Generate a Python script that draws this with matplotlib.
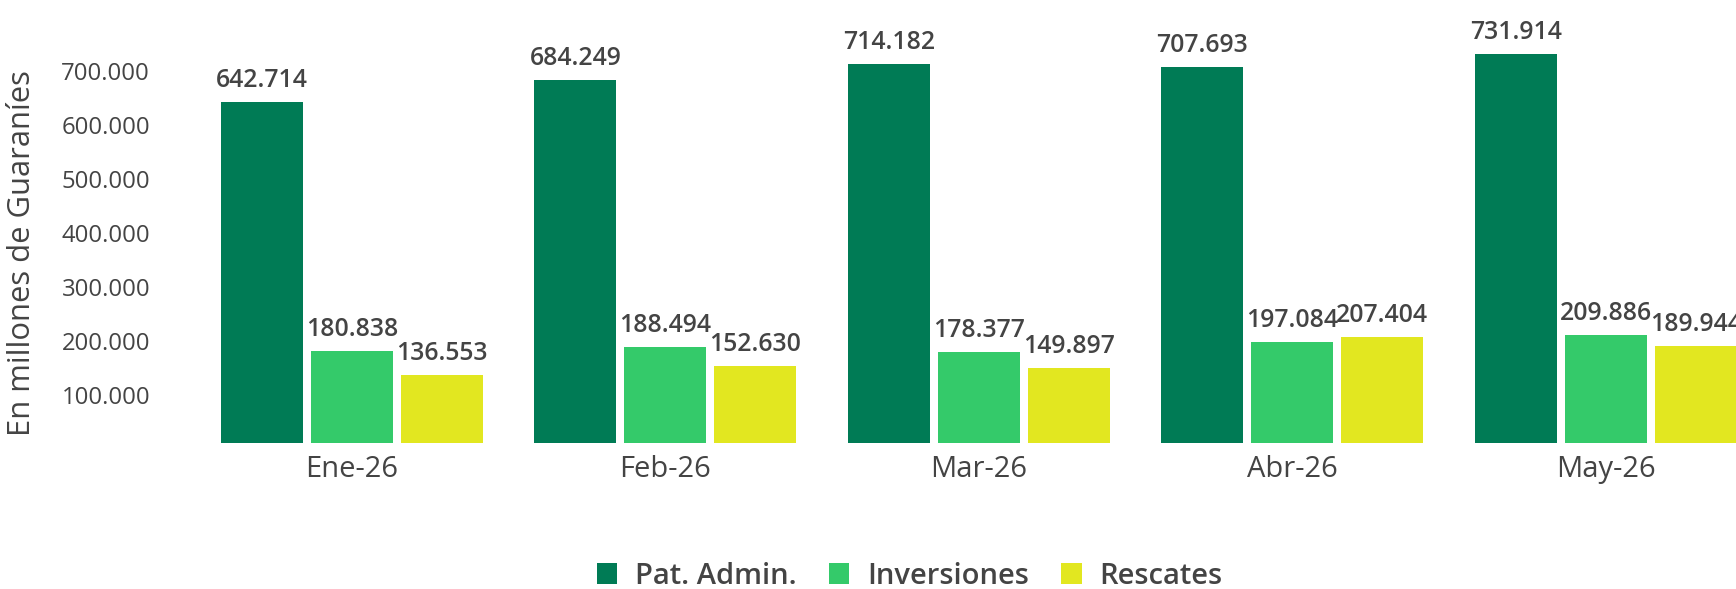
# Importing the libraries
import numpy as np
import matplotlib.pyplot as plt
from matplotlib.patches import Patch

# Data
meses = ['Ene-26', 'Feb-26', 'Mar-26', 'Abr-26', 'May-26']
pat_admin = [642714, 684249, 714182, 707693, 731914]
inversiones = [180838, 188494, 178377, 197084, 209886]
rescates = [136553, 152630, 149897, 207404, 189944]
series_names = ['Pat. Admin.', 'Inversiones', 'Rescates']
y_ticks = [100000, 200000, 300000, 400000, 500000, 600000, 700000]

colors = ['#007B55', '#34CA6A', '#E2E720']
text_color = '#444444'

plt.rcParams['font.family'] = ['Open Sans', 'DejaVu Sans']


def fmt(v):
    # thousands separator with a dot
    return f'{v:,.0f}'.replace(',', '.')


fig = plt.figure(figsize=(17.36, 5.89), dpi=100)
ax = fig.add_axes([0.1125, 0.2477, 0.9027, 0.7229])

x = np.arange(len(meses))
width = 0.2616
step = 0.2872

for k, (vals, col) in enumerate(zip([pat_admin, inversiones, rescates], colors)):
    pos = x + (k - 1) * step
    bars = ax.bar(pos, vals, width, color=col, label=series_names[k])
    for b, v in zip(bars, vals):
        ax.annotate(fmt(v), (b.get_x() + b.get_width() / 2, v),
                    xytext=(0, 10.8), textcoords='offset points',
                    ha='center', va='baseline', fontsize=17.8,
                    fontweight='semibold', color=text_color)

ax.set_xlim(-0.5, 4.5)
ax.set_ylim(10000, 800000)
ax.set_xticks(x)
ax.set_xticklabels(meses)
ax.set_yticks(y_ticks)
ax.set_yticklabels([fmt(v) for v in y_ticks])
ax.tick_params(axis='x', length=0, pad=8.5, labelsize=21, colors=text_color)
ax.tick_params(axis='y', length=0, pad=32.6, labelsize=17.2, colors=text_color)
for s in ax.spines.values():
    s.set_visible(False)

# y axis title
fig.text(22 / 1736, 1 - 253 / 589, 'En millones de Guaraníes', rotation=90,
         ha='center', va='center', fontsize=22.3, color=text_color)

# legend at the bottom
handles = [Patch(facecolor=c) for c in colors]
fig.legend(handles, series_names, loc='center', bbox_to_anchor=(0.524, 1 - 576 / 589),
           ncol=3, frameon=False, handlelength=0.7, handleheight=0.7,
           handletextpad=0.62, columnspacing=1.1, borderpad=0,
           prop={'size': 21, 'weight': 'semibold'}, labelcolor=text_color)

plt.savefig('out.png', dpi=100)
